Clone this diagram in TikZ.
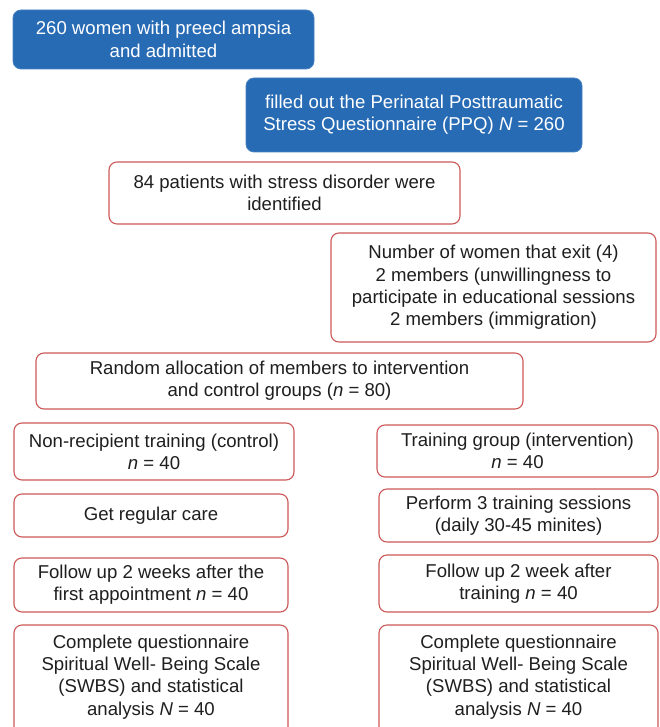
\documentclass[tikz,border=0pt]{standalone}
\usepackage{fontspec}
\setmainfont{Liberation Sans}
\definecolor{bluefill}{RGB}{39,107,181}
\definecolor{redline}{RGB}{204,88,88}
\tikzset{
  base/.style={rounded corners=8pt, align=center, inner sep=0pt, font=\fontsize{18.6}{22.3}\selectfont},
  bluebox/.style={base, fill=bluefill, draw=bluefill!85!white, line width=0.8pt, text=white},
  redbox/.style={base, draw=redline, line width=1.1pt, fill=white, text=black!88},
  plaintext/.style={align=center, inner sep=0pt, font=\fontsize{18.6}{22.3}\selectfont, text=black!88}
}
\begin{document}
\begin{tikzpicture}[x=1pt,y=-1pt]
\useasboundingbox (0,0) rectangle (659,727);
\node[bluebox, minimum width=301pt, minimum height=59pt] (n1) at (163.5,39.5) {260 women with preecl ampsia\\and admitted};
\node[bluebox, minimum width=336pt, minimum height=74pt] (n2) at (414,115) {filled out the Perinatal Posttraumatic\\Stress Questionnaire (PPQ) \textit{N} = 260};
\node[redbox, minimum width=351pt, minimum height=62pt] (n3) at (284.5,193) {84 patients with stress disorder were\\identified};
\node[redbox, minimum width=325pt, minimum height=109pt] (n4) at (493.5,287.5) {Number of women that exit (4)\\2 members (unwillingness to\\participate in educational sessions\\2 members (immigration)};
\node[redbox, minimum width=487pt, minimum height=56pt] (n5) at (279.5,381) {Random allocation of members to intervention\\and control groups (\textit{n} = 80)};
\node[redbox, minimum width=280pt, minimum height=57pt] (n6) at (154,451.5) {Non-recipient training (control)\\\textit{n} = 40};
\node[redbox, minimum width=281pt, minimum height=52pt] (n7) at (517.5,451) {Training group (intervention)\\\textit{n} = 40};
\node[redbox, minimum width=274pt, minimum height=43pt] (n8) at (151,515.5) {Get regular care};
\node[redbox, minimum width=279pt, minimum height=53pt] (n9) at (518.5,515.5) {Perform 3 training sessions\\(daily 30-45 minites)};
\node[redbox, minimum width=274pt, minimum height=54pt] (n10) at (151,585) {Follow up 2 weeks after the\\first appointment \textit{n} = 40};
\node[redbox, minimum width=279pt, minimum height=57pt] (n11) at (518.5,583.5) {Follow up 2 week after\\training \textit{n} = 40};
\node[redbox, minimum width=274pt, minimum height=116pt] (n12) at (151,683) {};
\node[plaintext] (t12) at (n12.center |- 0,677) {Complete questionnaire\\Spiritual Well- Being Scale\\(SWBS) and statistical\\analysis \textit{N} = 40};
\node[redbox, minimum width=279pt, minimum height=116pt] (n13) at (518.5,683) {};
\node[plaintext] (t13) at (n13.center |- 0,677) {Complete questionnaire\\Spiritual Well- Being Scale\\(SWBS) and statistical\\analysis \textit{N} = 40};
\end{tikzpicture}
\end{document}
